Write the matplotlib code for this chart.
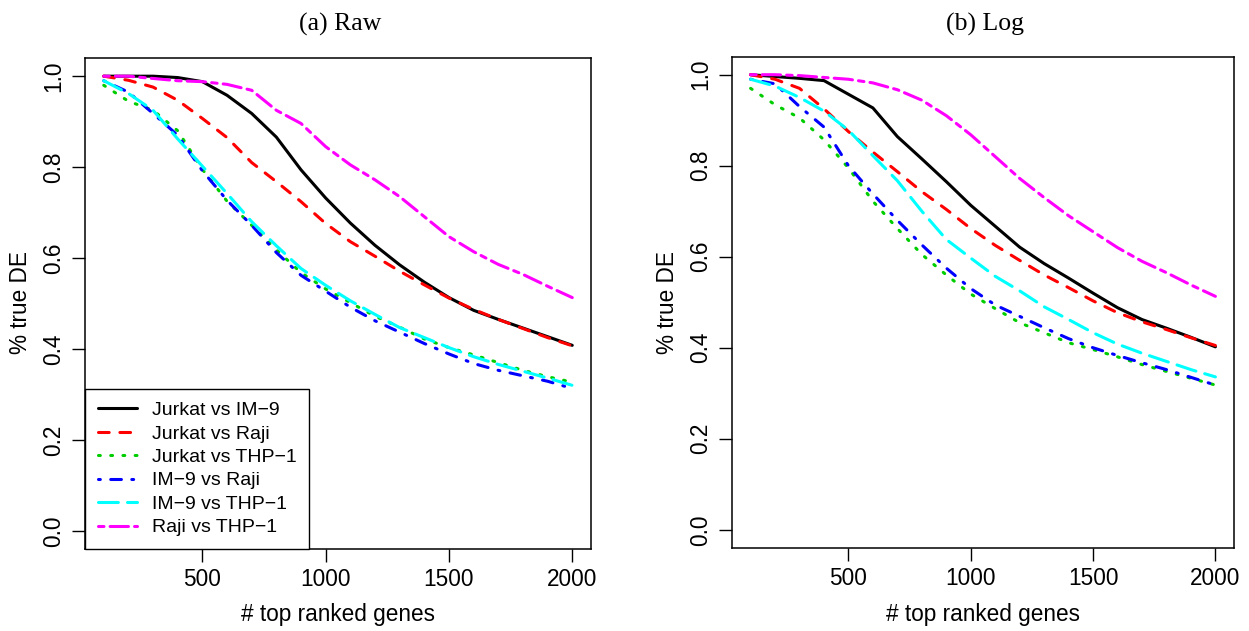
import matplotlib
matplotlib.use('Agg')
import matplotlib.pyplot as plt

plt.rcParams['font.family'] = ['Liberation Sans', 'DejaVu Sans']

# number of top ranked genes
n_genes = [100, 200, 300, 400, 500, 600, 700, 800, 900, 1000,
           1100, 1200, 1300, 1400, 1500, 1600, 1700, 1800, 1900, 2000]

labels = ['Jurkat vs IM\u22129', 'Jurkat vs Raji', 'Jurkat vs THP\u22121',
          'IM\u22129 vs Raji', 'IM\u22129 vs THP\u22121', 'Raji vs THP\u22121']

# (a) Raw
jurkat_im9_raw = [1.000, 1.000, 1.000, 0.997, 0.988, 0.958, 0.918, 0.866, 0.794, 0.732,
                  0.677, 0.628, 0.585, 0.547, 0.513, 0.485, 0.465, 0.446, 0.427, 0.408]
jurkat_raji_raw = [1.000, 0.991, 0.976, 0.947, 0.907, 0.865, 0.810, 0.768, 0.724, 0.676,
                   0.636, 0.604, 0.571, 0.541, 0.512, 0.487, 0.465, 0.445, 0.425, 0.407]
jurkat_thp1_raw = [0.980, 0.945, 0.925, 0.880, 0.795, 0.725, 0.672, 0.618, 0.568, 0.532,
                   0.502, 0.472, 0.448, 0.422, 0.403, 0.387, 0.370, 0.353, 0.339, 0.327]
im9_raji_raw = [0.990, 0.965, 0.918, 0.870, 0.792, 0.727, 0.672, 0.612, 0.562, 0.527,
                0.492, 0.462, 0.437, 0.412, 0.389, 0.368, 0.353, 0.341, 0.329, 0.313]
im9_thp1_raw = [0.990, 0.962, 0.925, 0.862, 0.802, 0.742, 0.680, 0.627, 0.577, 0.540,
                0.506, 0.476, 0.447, 0.425, 0.403, 0.383, 0.366, 0.351, 0.336, 0.320]
raji_thp1_raw = [1.000, 1.000, 0.995, 0.990, 0.988, 0.982, 0.969, 0.925, 0.896, 0.845,
                 0.805, 0.772, 0.735, 0.691, 0.647, 0.614, 0.586, 0.564, 0.538, 0.513]

# (b) Log
jurkat_im9_log = [1.000, 0.996, 0.992, 0.987, 0.957, 0.927, 0.864, 0.815, 0.765, 0.713,
                  0.667, 0.621, 0.585, 0.553, 0.520, 0.488, 0.462, 0.443, 0.423, 0.402]
jurkat_raji_log = [1.000, 0.990, 0.970, 0.925, 0.875, 0.830, 0.787, 0.743, 0.704, 0.662,
                   0.625, 0.592, 0.560, 0.532, 0.503, 0.477, 0.457, 0.440, 0.422, 0.405]
jurkat_thp1_log = [0.970, 0.934, 0.905, 0.857, 0.795, 0.722, 0.662, 0.605, 0.560, 0.518,
                   0.486, 0.455, 0.433, 0.411, 0.396, 0.380, 0.363, 0.348, 0.333, 0.318]
im9_raji_log = [0.990, 0.980, 0.930, 0.885, 0.800, 0.738, 0.680, 0.626, 0.575, 0.530,
                0.494, 0.469, 0.444, 0.420, 0.400, 0.383, 0.367, 0.352, 0.335, 0.318]
im9_thp1_log = [0.990, 0.975, 0.950, 0.920, 0.878, 0.822, 0.767, 0.700, 0.638, 0.597,
                0.557, 0.525, 0.490, 0.462, 0.433, 0.408, 0.388, 0.370, 0.352, 0.336]
raji_thp1_log = [1.000, 1.000, 0.998, 0.994, 0.990, 0.982, 0.967, 0.944, 0.910, 0.868,
                 0.820, 0.772, 0.730, 0.690, 0.655, 0.620, 0.590, 0.565, 0.538, 0.513]

raw = [jurkat_im9_raw, jurkat_raji_raw, jurkat_thp1_raw, im9_raji_raw, im9_thp1_raw, raji_thp1_raw]
logd = [jurkat_im9_log, jurkat_raji_log, jurkat_thp1_log, im9_raji_log, im9_thp1_log, raji_thp1_log]

# R default palette and lty 1..6
colors = ['black', '#FF0000', '#00CD00', '#0000FF', '#00FFFF', '#FF00FF']
dashes = [None, (3.5, 3.5), (0.6, 3.4), (0.6, 3.4, 3.5, 3.4), (6.5, 3.0), (1.8, 2.0, 6.0, 2.0)]
LW = 2.2
FS = 16.3

fig = plt.figure(figsize=(12.49, 6.31), dpi=100)
ax1 = fig.add_axes([85 / 1249, 1 - 549 / 631, 506 / 1249, 491 / 631])
ax2 = fig.add_axes([732 / 1249, 1 - 548 / 631, 502 / 1249, 491.5 / 631])


def draw(ax, data):
    for i in range(6):
        line, = ax.plot(n_genes, data[i], color=colors[i], lw=LW, label=labels[i],
                        solid_capstyle='round', dash_capstyle='round')
        if dashes[i] is not None:
            line.set_dashes(dashes[i])
    ax.set_xlim(24, 2076)
    ax.set_ylim(-0.04, 1.04)
    ax.set_xticks([500, 1000, 1500, 2000])
    ax.set_yticks([0.0, 0.2, 0.4, 0.6, 0.8, 1.0])
    ax.set_yticklabels(['0.0', '0.2', '0.4', '0.6', '0.8', '1.0'])
    ax.tick_params(direction='out', length=9.5, width=1, pad=4.5, labelsize=FS)
    ax.tick_params(axis='y', labelrotation=90)
    for t in ax.get_yticklabels():
        t.set_va('center')
    for s in ax.spines.values():
        s.set_linewidth(1.1)


draw(ax1, raw)
draw(ax2, logd)

leg = ax1.legend(loc='lower left', bbox_to_anchor=(0, 0), borderaxespad=0, fancybox=False,
                 edgecolor='black', framealpha=1, fontsize=14, handlelength=2.0,
                 handletextpad=0.8, borderpad=0.65, labelspacing=0.3)
leg.get_frame().set_linewidth(1.0)

# titles and axis labels
fig.text(340 / 1249, 1 - 24 / 631, '(a) Raw', ha='center', va='center',
         family=['Liberation Serif', 'DejaVu Serif'], fontsize=18.5)
fig.text(985 / 1249, 1 - 24 / 631, '(b) Log', ha='center', va='center',
         family=['Liberation Serif', 'DejaVu Serif'], fontsize=18.5)
fig.text(338 / 1249, 1 - 615 / 631, '# top ranked genes', ha='center', va='center', fontsize=FS)
fig.text(983 / 1249, 1 - 615 / 631, '# top ranked genes', ha='center', va='center', fontsize=FS)
fig.text(21 / 1249, 1 - 303 / 631, '% true DE', ha='center', va='center', rotation=90, fontsize=FS)
fig.text(668 / 1249, 1 - 303 / 631, '% true DE', ha='center', va='center', rotation=90, fontsize=FS)

fig.savefig('out.png', dpi=100)
